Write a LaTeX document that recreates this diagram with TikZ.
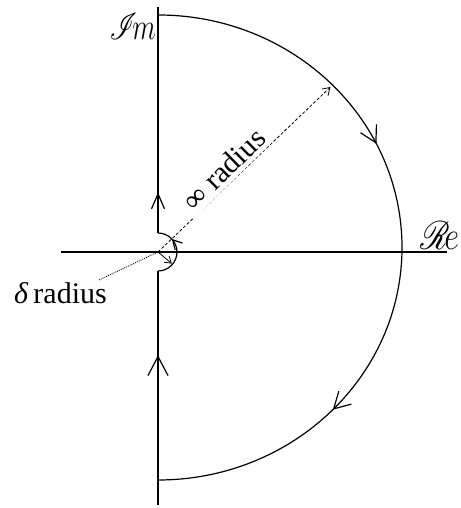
\documentclass[tikz,border=0pt]{standalone}
\usepackage{fontspec}
\setmainfont{Liberation Serif}
\usepackage{mathrsfs}
\usetikzlibrary{arrows.meta,decorations.markings,calc}
\begin{document}
\begin{tikzpicture}[x=1pt,y=1pt,
  thickline/.style={line width=1.2pt},
  bigbarb/.style={decoration={markings,mark=at position #1 with {\arrow{Straight Barb[length=15pt,width=13pt,line width=1.2pt]}}},postaction=decorate},
  hugebarb/.style={decoration={markings,mark=at position #1 with {\arrow{Straight Barb[length=19pt,width=20pt,line width=1.2pt]}}},postaction=decorate},
  smallbarb/.style={decoration={markings,mark=at position #1 with {\arrow{Straight Barb[length=9pt,width=10pt,line width=1.2pt]}}},postaction=decorate},
  dashline/.style={line width=0.8pt,dash pattern=on 3pt off 2pt},
  lbl/.style={font=\fontsize{30}{34}\selectfont,inner sep=0pt},
  axlbl/.style={font=\fontsize{24}{28}\selectfont,inner sep=0pt}]
\useasboundingbox (0,0) rectangle (460,508);
\coordinate (O) at (158,256);
\coordinate (ax1) at (61,256);
\coordinate (ax2) at (447,256);
\coordinate (b0) at (158,3);
\coordinate (b1) at (158,237);
\coordinate (t1) at (158,275);
\coordinate (t0) at (158,501);
\coordinate (A) at (158,493);
\coordinate (E) at (330.5,421);
\coordinate (D) at ($(O)+(-40:18)$);
\coordinate (L) at (99,228);
\coordinate (T) at ($(O)+(44.4:105)+(134.4:3)$);
% axis
\draw[thickline] (ax1) -- (ax2);
% contour
\draw[thickline,hugebarb=0.64] (b0) -- (b1);
\draw[thickline,smallbarb=0.74] (b1) arc[start angle=-90,end angle=90,radius=19];
\draw[thickline,bigbarb=0.18] (t1) -- (t0);
\draw[thickline,decoration={markings,
   mark=at position 0.356 with {\arrow{Straight Barb[length=16pt,width=18pt,line width=1.2pt]}},
   mark=at position 0.742 with {\arrow{Straight Barb[length=16pt,width=18pt,line width=1.2pt]}}},postaction=decorate]
   (A) arc[start angle=90,end angle=-90,x radius=244,y radius=232.5];
% infinity radius
\draw[dashline,-{Straight Barb[length=7pt,width=9pt,line width=0.8pt]}] (O) -- (E);
\node[lbl,rotate=44.4,anchor=base,fill=white,inner sep=4pt] (inf) at (T) {∞ radius};
% delta radius
\draw[line width=0.8pt,-{Straight Barb[length=6pt,width=8pt,line width=0.8pt]}] (O) -- (D);
\draw[line width=0.8pt,dash pattern=on 1pt off 1pt] (L) -- (O);
\node[lbl,anchor=base east] (dl) at (107,204) {\textit{δ}\,radius};
% axis labels
\node[axlbl,anchor=east] (im) at (156,482) {\scalebox{1.1}[1.5]{$\mathscr{I}\!m$}};
\node[axlbl,anchor=west] (re) at (420,272) {\scalebox{1.3}[1.6]{$\mathscr{R}\!e$}};
\end{tikzpicture}
\end{document}
